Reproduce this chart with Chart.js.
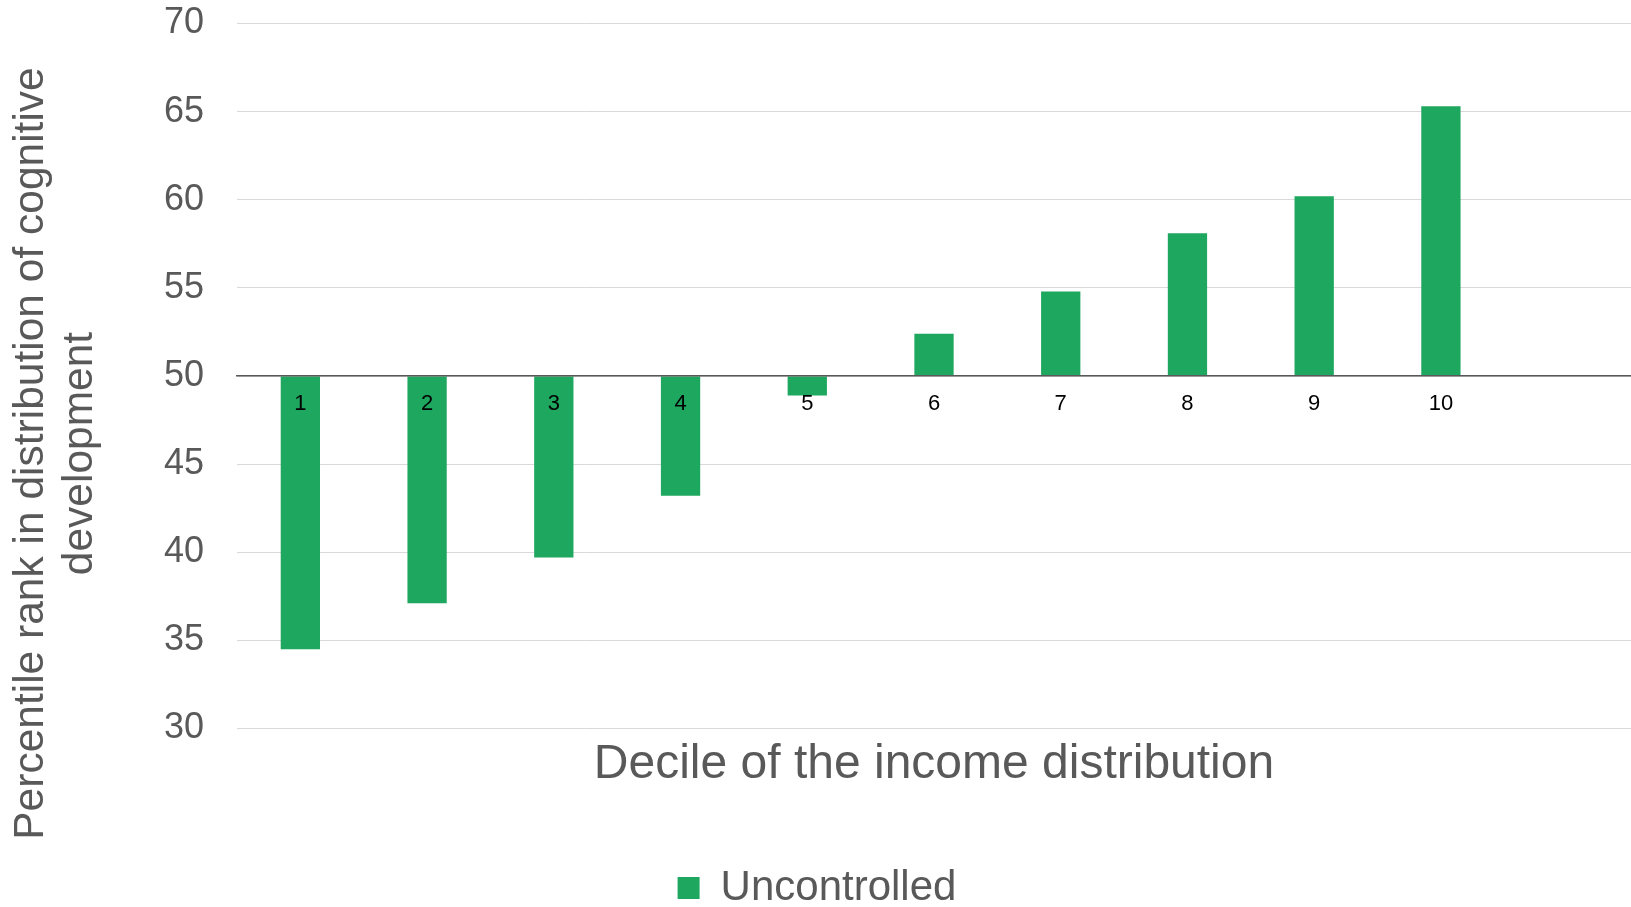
<!DOCTYPE html>
<html>
<head>
<meta charset="utf-8">
<script src="https://cdn.jsdelivr.net/npm/chart.js@4.4.1/dist/chart.umd.min.js"></script>
<style>
  html, body { margin: 0; padding: 0; background: #fff; }
  #wrap { width: 1631px; height: 907px; }
</style>
</head>
<body>
<div id="wrap"><canvas id="decileChart"></canvas></div>
<script>
// deciles of income (last one is the empty slot Excel leaves on the right)
const deciles = ['1', '2', '3', '4', '5', '6', '7', '8', '9', '10', ''];
const uncontrolled = [34.5, 37.1, 39.7, 43.2, 48.9, 52.4, 54.8, 58.1, 60.2, 65.3];
const yTicks = [30, 35, 40, 45, 50, 55, 60, 65, 70];
const baseline = 50;

const grey = '#595959';
const green = '#1ea75f';
Chart.defaults.font.family = '"Liberation Sans", Arial, sans-serif';

const ctx = document.getElementById('decileChart').getContext('2d');
new Chart(ctx, {
    type: 'bar',
    data: {
        labels: deciles,
        datasets: [{
            label: 'Uncontrolled',
            data: uncontrolled,
            base: baseline,
            backgroundColor: green,
            borderWidth: 0,
            barPercentage: 0.31,
            categoryPercentage: 1
        }]
    },
    options: {
        responsive: true,
        maintainAspectRatio: false,
        animation: false,
        layout: { padding: { top: -12, bottom: -12, left: 0, right: -3 } },
        plugins: {
            tooltip: { enabled: false },
            title: {
                display: true,
                position: 'left',
                text: ['Percentile rank in distribution of cognitive', 'development'],
                color: grey,
                font: { size: 42.5, weight: 'normal', lineHeight: 1.153 },
                padding: { top: 6.5, bottom: 0 }
            },
            legend: {
                position: 'bottom',
                labels: {
                    color: grey,
                    font: { size: 42 },
                    boxWidth: 22,
                    boxHeight: 22,
                    padding: 0
                }
            }
        },
        scales: {
            x: {
                grid: { display: false, drawTicks: false },
                border: { display: false },
                ticks: { display: false },
                title: {
                    display: true,
                    text: 'Decile of the income distribution',
                    color: grey,
                    font: { size: 48 },
                    padding: { top: 0, bottom: 73 }
                },
                afterFit: scale => { scale.height = 138.5; }
            },
            // category labels sitting on the 50 line
            xl: {
                type: 'category',
                axis: 'x',
                position: { y: baseline },
                offset: true,
                grid: { display: false, drawTicks: false },
                border: { display: true, color: grey, width: 1.5, z: 1 },
                ticks: { color: '#000', font: { size: 22 }, padding: 15, z: 1 }
            },
            y: {
                min: yTicks[0],
                max: yTicks[yTicks.length - 1],
                afterBuildTicks: scale => { scale.ticks = yTicks.map(v => ({ value: v })); },
                grid: { color: '#d9d9d9', lineWidth: 1, drawTicks: false },
                border: { display: false },
                ticks: { color: grey, font: { size: 36 }, padding: 33 },
                afterFit: scale => {
                    scale.width = 132.5;
                    scale.paddingTop = 23.5;
                }
            }
        }
    }
});
</script>
</body>
</html>
